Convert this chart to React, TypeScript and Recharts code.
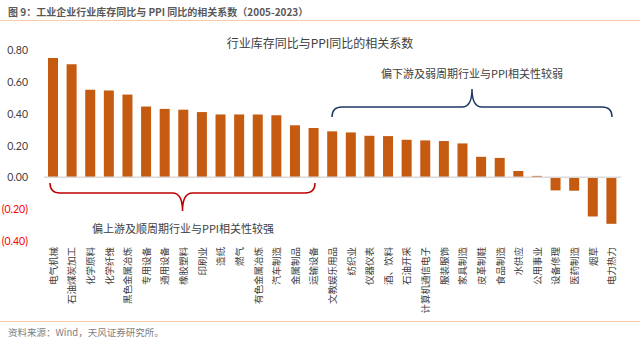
import { BarChart, Bar, XAxis, YAxis, ReferenceLine } from 'recharts';

const industries = [
    '电气机械', '石油煤炭加工', '化学原料', '化学纤维', '黑色金属冶炼', '专用设备', '通用设备', '橡胶塑料',
    '印刷业', '造纸', '燃气', '有色金属冶炼', '汽车制造', '金属制品', '运输设备', '文教娱乐用品',
    '纺织业', '仪器仪表', '酒、饮料', '石油开采', '计算机通信电子', '服装服饰', '家具制造', '皮革制鞋',
    '食品制造', '水供应', '公用事业', '设备修理', '医药制造', '烟草', '电力热力',
];
const corr = [
    0.75, 0.71, 0.55, 0.545, 0.52, 0.445, 0.43, 0.425,
    0.41, 0.395, 0.395, 0.395, 0.39, 0.327, 0.31, 0.289,
    0.282, 0.261, 0.259, 0.236, 0.232, 0.228, 0.213, 0.129,
    0.122, 0.04, 0.009, -0.082, -0.084, -0.246, -0.292,
];
const yTicks = [-0.4, -0.2, 0, 0.2, 0.4, 0.6, 0.8];

const data = industries.map((name, i) => ({ name, value: corr[i] }));

const CJK = "'Noto Sans CJK SC', 'Noto Sans', sans-serif";

const YTick = ({ x, y, payload }: any) => {
    const v = payload.value as number;
    const neg = v < 0;
    const label = neg ? `(${Math.abs(v).toFixed(2)})` : v.toFixed(2);
    return (
        <text x={x - 8} y={y} dy={4} textAnchor="end" fontSize={10.5} fill={neg ? '#ff0000' : '#404040'} fontFamily="Lato, sans-serif">
            {label}
        </text>
    );
};

const XTick = ({ x, payload }: any) => (
    <text x={x} y={247} dy={3.5} transform={`rotate(-90, ${x}, 247)`} textAnchor="end" fontSize={9.5} fill="#404040" fontFamily={CJK}>
        {payload.value}
    </text>
);

// curly brace helper for the two annotation groups
const brace = (x1: number, x2: number, yEnd: number, yLine: number, yTip: number) => {
    const xm = (x1 + x2) / 2;
    const r = 10;
    return `M${x1},${yEnd} Q${x1},${yLine} ${x1 + r},${yLine} L${xm - r},${yLine} Q${xm},${yLine} ${xm},${yTip} Q${xm},${yLine} ${xm + r},${yLine} L${x2 - r},${yLine} Q${x2},${yLine} ${x2},${yEnd}`;
};

export default function App() {
    return (
        <div style={{ position: 'absolute', left: 0, top: 0, width: 640, height: 343, background: '#fff', fontFamily: CJK }}>
            <div style={{ position: 'absolute', left: 8, top: 4, fontSize: 10, fontWeight: 700, color: '#595959', whiteSpace: 'nowrap' }}>
                图 9：工业企业行业库存同比与 PPI 同比的相关系数（2005-2023）
            </div>
            <div style={{ position: 'absolute', left: 0, top: 20, width: 640, height: 1, background: '#f8cbad' }} />
            <div style={{ position: 'absolute', left: 0, top: 34, width: 640, textAlign: 'center', fontSize: 12, color: '#404040' }}>
                行业库存同比与PPI同比的相关系数
            </div>
            <BarChart width={640} height={343} data={data} margin={{ top: 50, right: 19, bottom: 22, left: 0 }} barSize={10}>
                <XAxis dataKey="name" interval={0} axisLine={false} tickLine={false} height={80} tick={<XTick />} />
                <YAxis domain={[-0.4, 0.8]} ticks={yTicks} width={44} axisLine={false} tickLine={false} tick={<YTick />} />
                <ReferenceLine y={0} stroke="#d9d9d9" strokeWidth={1.5} />
                <Bar dataKey="value" fill="#c55a11" isAnimationActive={false} />
            </BarChart>
            <svg width={640} height={343} style={{ position: 'absolute', left: 0, top: 0, pointerEvents: 'none' }}>
                <path d={brace(50, 315, 183, 193, 211)} fill="none" stroke="#c00000" strokeWidth={1.5} />
                <text x={183} y={233} textAnchor="middle" fontSize={11} fill="#404040" fontFamily={CJK}>偏上游及顺周期行业与PPI相关性较强</text>
                <path d={brace(332, 612, 117, 107, 89)} fill="none" stroke="#203864" strokeWidth={1.5} />
                <text x={472} y={78} textAnchor="middle" fontSize={11} fill="#404040" fontFamily={CJK}>偏下游及弱周期行业与PPI相关性较弱</text>
            </svg>
            <div style={{ position: 'absolute', left: 0, top: 321, width: 640, height: 1, background: '#f8cbad' }} />
            <div style={{ position: 'absolute', left: 8, top: 325, fontSize: 9.5, color: '#7f7f7f', whiteSpace: 'nowrap' }}>
                资料来源：Wind，天风证券研究所。
            </div>
        </div>
    );
}
